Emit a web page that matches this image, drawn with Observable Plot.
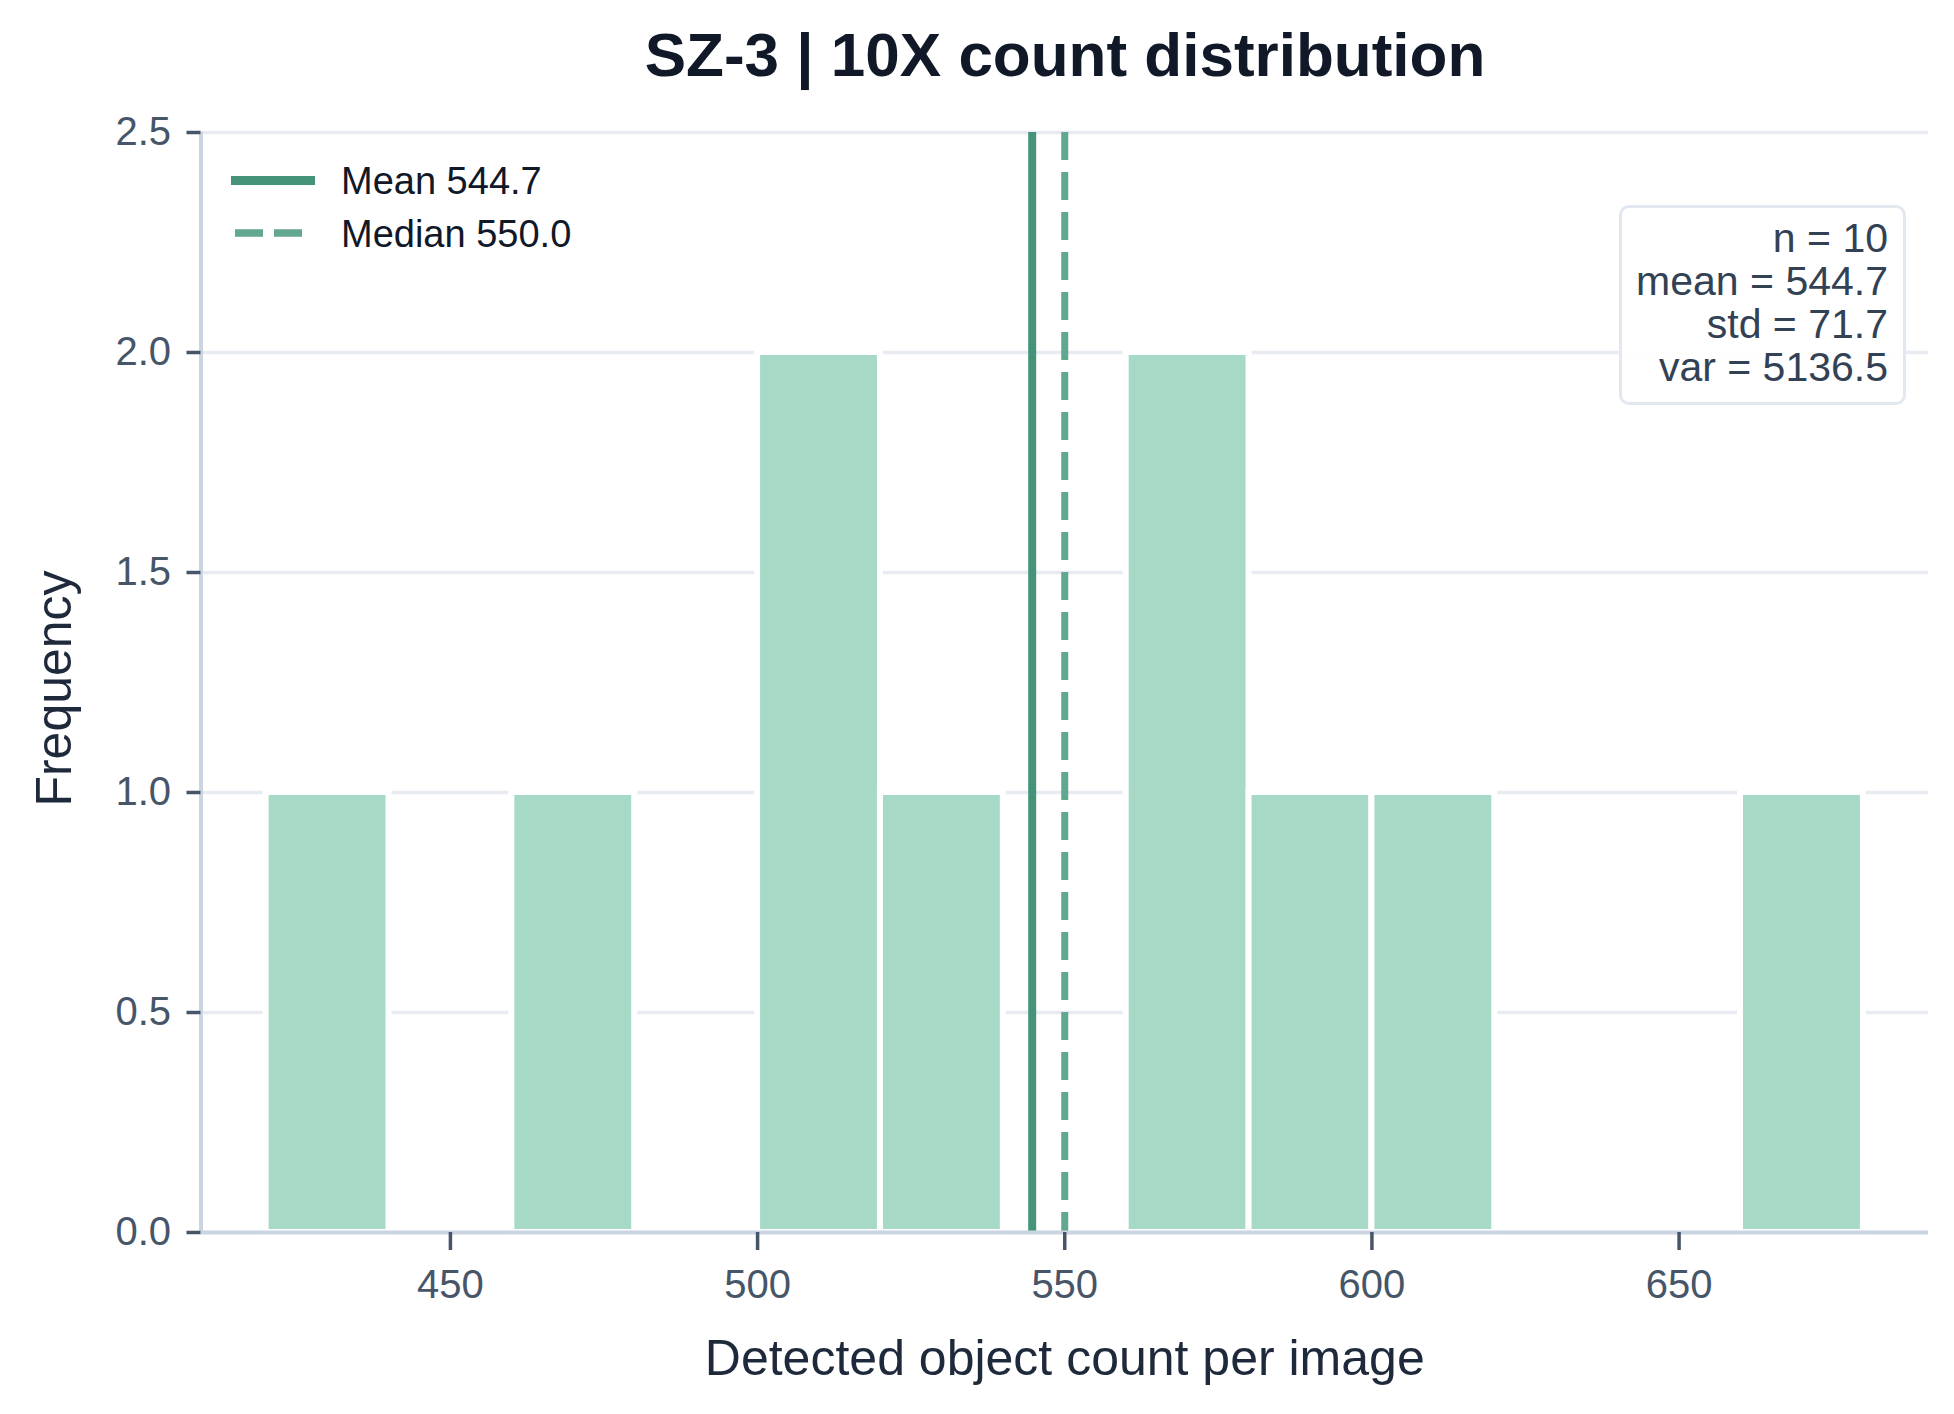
<!DOCTYPE html>
<html>
<head>
<meta charset="utf-8">
<script src="https://cdn.jsdelivr.net/npm/d3@7"></script>
<script src="https://cdn.jsdelivr.net/npm/@observablehq/plot@0.6"></script>
<style>
  html, body { margin: 0; padding: 0; background: #ffffff; }
  #wrap { position: relative; width: 1954px; height: 1414px; font-family: "Liberation Sans", Arial, sans-serif; overflow: hidden; }
  #title { position: absolute; left: 565px; width: 1000px; top: 24px; text-align: center; font-size: 62px; line-height: 62px; font-weight: bold; color: #111827; white-space: nowrap; }
  #chart { position: absolute; left: 0; top: 100px; }
  .leg { position: absolute; font-size: 38px; line-height: 38px; color: #111827; white-space: nowrap; left: 341px; }
  #legsvg { position: absolute; left: 0; top: 0; }
  #stats { position: absolute; left: 1619px; top: 205px; width: 287px; height: 200px; box-sizing: border-box; border: 3px solid #e2e8f0; border-radius: 10px; background: rgba(255,255,255,0.92); }
  #statsText { position: absolute; right: 66px; top: 216.5px; font-size: 41px; line-height: 43.3px; color: #334155; text-align: right; white-space: nowrap; }
</style>
</head>
<body>
<div id="wrap">
  <div id="title"></div>
  <div id="chart"></div>
  <svg id="legsvg" width="400" height="300"></svg>
  <div class="leg" id="legMean" style="top:162px"></div>
  <div class="leg" id="legMedian" style="top:214.5px"></div>
  <div id="stats"></div>
  <div id="statsText"></div>
</div>
<script>
// ---- data ----
const titleText = "SZ-3 | 10X count distribution";
const xLabel = "Detected object count per image";
const yLabel = "Frequency";
const binLo  = [420, 440, 460, 480, 500, 520, 540, 560, 580, 600, 620, 640, 660];
const binHi  = [440, 460, 480, 500, 520, 540, 560, 580, 600, 620, 640, 660, 680];
const counts = [1,   0,   1,   0,   2,   1,   0,   2,   1,   1,   0,   0,   1];
const meanVal = [544.7];
const medianVal = [550.0];
const statLabels = ["n", "mean", "std", "var"];
const statValues = ["10", "544.7", "71.7", "5136.5"];
const xTicks = [450, 500, 550, 600, 650];
const yTicks = [0, 0.5, 1.0, 1.5, 2.0, 2.5];
const xDomain = [409.4, 690.6];
const yDomain = [0, 2.5];

const bins = binLo.map((lo, i) => ({lo, hi: binHi[i], count: counts[i]}));

// ---- colors ----
const barFill = "#a6d9c6";
const meanColor = "#45947a";
const medianColor = "#62a890";
const gridColor = "#e8ecf2";
const spineColor = "#cbd5e1";

const W = 1954, H = 1314;
const chart = Plot.plot({
  width: W,
  height: H,
  marginLeft: 200.5,
  marginRight: 26,
  marginTop: 32,
  marginBottom: 182,
  style: {fontFamily: "Liberation Sans, Arial, sans-serif", background: "#ffffff", color: "#475569"},
  x: {domain: xDomain, label: null},
  y: {domain: yDomain, label: null},
  marks: [
    Plot.ruleY(yTicks, {stroke: gridColor, strokeWidth: 3.5}),
    Plot.rectY(bins, {filter: d => d.count > 0, x1: "lo", x2: "hi", y: "count", fill: barFill, stroke: "#ffffff", strokeWidth: 6}),
    Plot.ruleX(meanVal, {stroke: meanColor, strokeWidth: 8}),
    Plot.ruleX(medianVal, {stroke: medianColor, strokeWidth: 7, strokeDasharray: "28 12"}),
    Plot.ruleY([yDomain[0]], {stroke: spineColor, strokeWidth: 4}),
    Plot.ruleX([xDomain[0]], {stroke: spineColor, strokeWidth: 4}),
    Plot.axisX({ticks: xTicks, tickSize: 18, tickPadding: 19, fontSize: 40, strokeWidth: 3.5, label: null}),
    Plot.axisY({ticks: yTicks, tickSize: 14, tickPadding: 16, fontSize: 40, strokeWidth: 3.5, tickFormat: d => d.toFixed(1), label: null}),
    Plot.text([xLabel], {frameAnchor: "bottom", dy: 126, fontSize: 50, fill: "#1e293b", lineAnchor: "middle", textAnchor: "middle"}),
    Plot.text([yLabel], {frameAnchor: "left", dx: -146.5, dy: 6, rotate: -90, fontSize: 50, fill: "#1e293b", lineAnchor: "middle", textAnchor: "middle"})
  ]
});
document.getElementById("chart").appendChild(chart);

document.getElementById("title").textContent = titleText;
document.getElementById("legMean").textContent = "Mean " + meanVal[0].toFixed(1);
document.getElementById("legMedian").textContent = "Median " + medianVal[0].toFixed(1);
document.getElementById("statsText").innerHTML = statLabels.map((l, i) => l + " = " + statValues[i]).join("<br>");

// legend samples
const leg = d3.select("#legsvg");
leg.append("line").attr("x1", 231).attr("x2", 315).attr("y1", 180.5).attr("y2", 180.5)
  .attr("stroke", meanColor).attr("stroke-width", 9);
leg.append("line").attr("x1", 235).attr("x2", 303).attr("y1", 233).attr("y2", 233)
  .attr("stroke", medianColor).attr("stroke-width", 7.3).attr("stroke-dasharray", "28 11");
</script>
</body>
</html>
